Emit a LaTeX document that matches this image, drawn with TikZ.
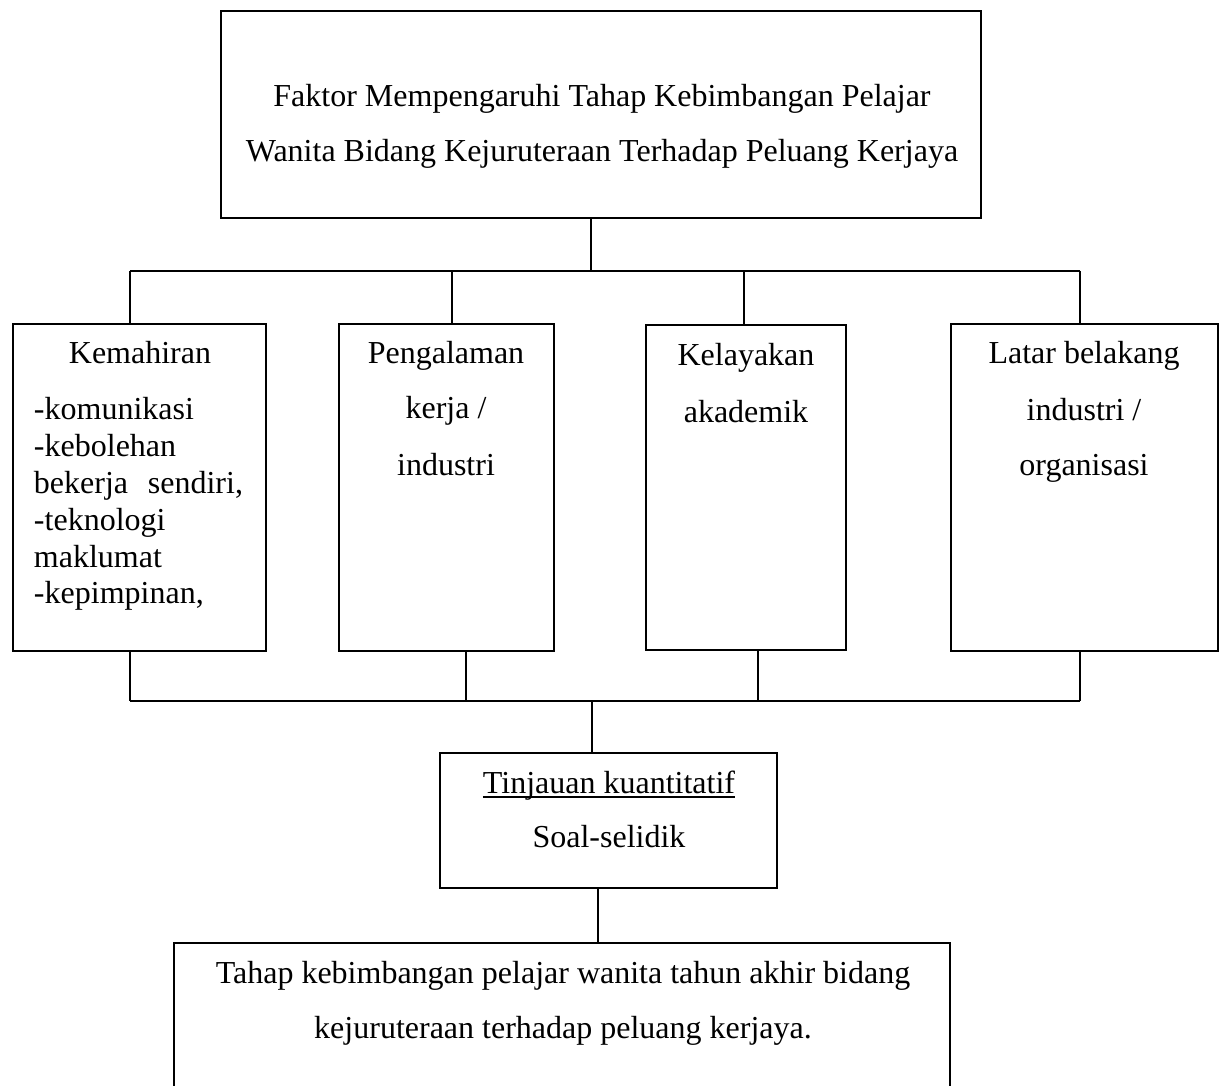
\documentclass[tikz,border=0pt]{standalone}
\usepackage{fontspec}
\setmainfont{Liberation Serif}
\begin{document}
\begin{tikzpicture}[x=1pt,y=-1pt,
  box/.style={draw=black,line width=1.4pt,fill=white,anchor=north west,inner sep=0pt,outer sep=0pt},
  conn/.style={draw=black,line width=1.1pt},
  txt/.style={anchor=base,inner sep=0pt,outer sep=0pt,font=\fontsize{32}{36}\selectfont},
  ltxt/.style={anchor=base west,inner sep=0pt,outer sep=0pt,font=\fontsize{32}{36}\selectfont}]
\useasboundingbox (0,0) rectangle (1219,1086);
\clip (0,0) rectangle (1219,1086);
% boxes
\node[box,minimum width=760pt,minimum height=207pt] (top) at (221,11) {};
\node[box,minimum width=253pt,minimum height=327pt] (b1) at (13,324) {};
\node[box,minimum width=215pt,minimum height=327pt] (b2) at (339,324) {};
\node[box,minimum width=200pt,minimum height=325pt] (b3) at (646,325) {};
\node[box,minimum width=267pt,minimum height=327pt] (b4) at (951,324) {};
\node[box,minimum width=337pt,minimum height=135pt] (b5) at (440,753) {};
\node[box,minimum width=776pt,minimum height=170pt] (b6) at (174,943) {};
% junction coordinates
\coordinate (u0) at (591,271);
\coordinate (uL) at (130,271);
\coordinate (u1) at (130,271);
\coordinate (u2) at (452,271);
\coordinate (u3) at (744,271);
\coordinate (u4) at (1080,271);
\coordinate (uR) at (1080,271);
\coordinate (l1) at (130,701);
\coordinate (l2) at (466,701);
\coordinate (l3) at (758,701);
\coordinate (l4) at (1080,701);
\coordinate (l0) at (592,701);
\coordinate (m5) at (598,888);
% connectors
\draw[conn] (top.south -| u0) -- (u0);
\draw[conn] (uL) -- (uR);
\draw[conn] (u1) -- (u1 |- b1.north);
\draw[conn] (u2) -- (u2 |- b2.north);
\draw[conn] (u3) -- (u3 |- b3.north);
\draw[conn] (u4) -- (u4 |- b4.north);
\draw[conn] (l1 |- b1.south) -- (l1);
\draw[conn] (l2 |- b2.south) -- (l2);
\draw[conn] (l3 |- b3.south) -- (l3);
\draw[conn] (l4 |- b4.south) -- (l4);
\draw[conn] (l1) -- (l4);
\draw[conn] (l0) -- (l0 |- b5.north);
\draw[conn] (m5 |- b5.south) -- (m5 |- b6.north);
% texts
\node[txt] (t01) at (602,107) {Faktor Mempengaruhi Tahap Kebimbangan Pelajar};
\node[txt] (t02) at (602,162) {Wanita Bidang Kejuruteraan Terhadap Peluang Kerjaya};
\node[txt] (t11) at (140,363) {Kemahiran};
\node[ltxt] (t12) at (34,419) {-komunikasi};
\node[ltxt] (t13) at (34,456) {-kebolehan};
\node[ltxt] (t14) at (34,493) {\hbox to 209pt{bekerja\hfill sendiri,}};
\node[ltxt] (t15) at (34,530) {-teknologi};
\node[ltxt] (t16) at (34,567) {maklumat};
\node[ltxt] (t17) at (34,603) {-kepimpinan,};
\node[txt] (t21) at (446,363) {Pengalaman};
\node[txt] (t22) at (446,418) {kerja /};
\node[txt] (t23) at (446,475) {industri};
\node[txt] (t31) at (746,365) {Kelayakan};
\node[txt] (t32) at (746,422) {akademik};
\node[txt] (t41) at (1084,363) {Latar belakang};
\node[txt] (t42) at (1084,420) {industri /};
\node[txt] (t43) at (1084,475) {organisasi};
\node[txt] (t51) at (609,793) {Tinjauan kuantitatif};
\draw[line width=1.3pt] ([yshift=-4pt]t51.base west) -- ([yshift=-4pt]t51.base east);
\node[txt] (t52) at (609,847) {Soal-selidik};
\node[txt] (t61) at (563,983) {Tahap kebimbangan pelajar wanita tahun akhir bidang};
\node[txt] (t62) at (563,1038) {kejuruteraan terhadap peluang kerjaya.};
\end{tikzpicture}
\end{document}
